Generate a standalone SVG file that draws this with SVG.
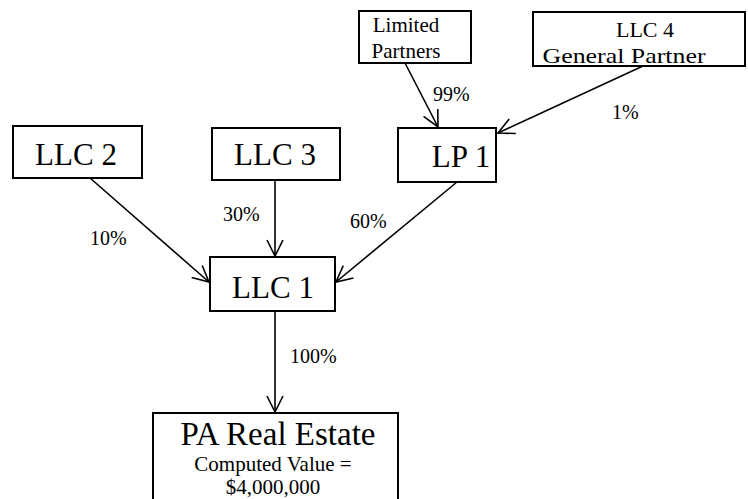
<svg xmlns="http://www.w3.org/2000/svg" width="748" height="499" viewBox="0 0 748 499">
<defs>
<style>
.box{fill:#fff;stroke:#000;stroke-width:2}
text{font-family:'Liberation Serif','DejaVu Serif','Times New Roman',serif;fill:#000}
.big{font-size:31px}
.sm{font-size:21px}
.pct{font-size:20px}
.edge{stroke:#000;stroke-width:1.6;fill:none;marker-end:url(#arr)}
</style>
<marker id="arr" viewBox="0 0 20 20" refX="18" refY="10" markerWidth="20" markerHeight="20" markerUnits="userSpaceOnUse" orient="auto">
<path d="M2,2 L18,10 L2,18" fill="none" stroke="#000" stroke-width="1.6"/>
</marker>
</defs>
<rect width="748" height="499" fill="#fff"/>
<g id="connectors">
<line class="edge" x1="405" y1="63" x2="438" y2="127"/>
<line class="edge" x1="643" y1="66" x2="498" y2="133"/>
<line class="edge" x1="90" y1="178" x2="209" y2="282"/>
<line class="edge" x1="275" y1="180" x2="275" y2="256"/>
<line class="edge" x1="457" y1="182" x2="336" y2="282"/>
<line class="edge" x1="275" y1="311" x2="275" y2="412"/>
<text class="pct" x="433" y="101">99%</text>
<text class="pct" x="612" y="119">1%</text>
<text class="pct" x="90" y="245">10%</text>
<text class="pct" x="223" y="221">30%</text>
<text class="pct" x="350" y="228">60%</text>
<text class="pct" x="290" y="363">100%</text>
</g>
<g id="limited-partners">
<rect class="box" x="359" y="11" width="112" height="52"/>
<text class="sm" x="406" y="32" text-anchor="middle">Limited</text>
<text class="sm" x="406" y="58" text-anchor="middle">Partners</text>
</g>
<g id="llc4">
<rect class="box" x="533" y="12" width="212" height="54"/>
<text font-size="22" x="645" y="37" text-anchor="middle">LLC 4</text>
<text font-size="22" x="624" y="63" text-anchor="middle" textLength="163" lengthAdjust="spacingAndGlyphs">General Partner</text>
</g>
<g id="llc2">
<rect class="box" x="13" y="126" width="129" height="52"/>
<text class="big" x="76" y="165" text-anchor="middle">LLC 2</text>
</g>
<g id="llc3">
<rect class="box" x="212" y="128" width="128" height="52"/>
<text class="big" x="275" y="165" text-anchor="middle">LLC 3</text>
</g>
<g id="lp1">
<rect class="box" x="398" y="128" width="98" height="54"/>
<text class="big" x="461" y="167" text-anchor="middle">LP 1</text>
</g>
<g id="llc1">
<rect class="box" x="210" y="257" width="125" height="54"/>
<text class="big" x="273" y="298" text-anchor="middle">LLC 1</text>
</g>
<g id="pa-real-estate">
<rect class="box" x="153" y="413" width="245" height="110"/>
<text font-size="33" x="278" y="445" text-anchor="middle">PA Real Estate</text>
<text font-size="21" x="273" y="471" text-anchor="middle">Computed Value =</text>
<text font-size="21" x="273" y="494" text-anchor="middle">$4,000,000</text>
</g>
</svg>
